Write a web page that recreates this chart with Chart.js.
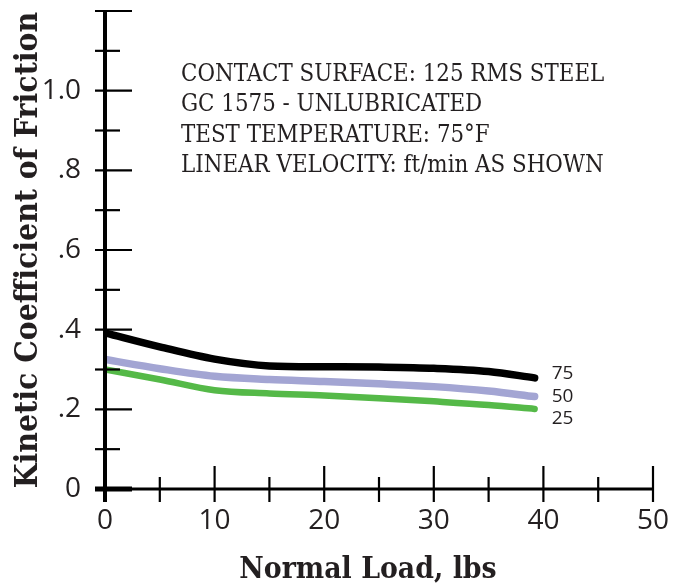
<!DOCTYPE html>
<html>
<head>
<meta charset="utf-8">
<script src="https://cdn.jsdelivr.net/npm/chart.js@4.4.1/dist/chart.umd.min.js"></script>
<style>
    html, body { margin: 0; padding: 0; background: #ffffff; }
    #wrap { width: 673px; height: 586px; }
</style>
</head>
<body>
<div id="wrap"><canvas id="frictionChart" width="673" height="586"></canvas></div>
<script>
// ===========================
// DATA
// ===========================

const loads = [0, 5, 10, 15, 20, 25, 30, 35, 39.2];
const speed75 = [0.392, 0.357, 0.326, 0.309, 0.307, 0.306, 0.303, 0.295, 0.279];
const speed50 = [0.325, 0.302, 0.283, 0.275, 0.270, 0.264, 0.257, 0.246, 0.232];
const speed25 = [0.300, 0.275, 0.248, 0.240, 0.235, 0.228, 0.220, 0.211, 0.201];

const seriesNames = ["75", "50", "25"];
const seriesColors = ["#000000", "#a3a5d3", "#55b948"];

const noteLines = [
    "CONTACT SURFACE: 125 RMS STEEL",
    "GC 1575 - UNLUBRICATED",
    "TEST TEMPERATURE: 75°F",
    "LINEAR VELOCITY: ft/min AS SHOWN"
];

const xTitle = "Normal Load, lbs";
const yTitle = "Kinetic Coefficient of Friction";

const INK = "#231f20";
const SLAB = "'DejaVu Serif Condensed', 'DejaVu Serif'";

// ===========================
// HELPER
// ===========================

function toPoints(values) {
    return values.map((v, i) => ({ x: loads[i], y: v }));
}

function yLabel(value) {
    const n = Math.round(value * 10);
    if (n % 2 !== 0 || n > 10) return "";
    if (n === 0) return "0";
    if (n === 10) return "1.0";
    return "." + n;
}

function xLabel(value) {
    return value % 10 === 0 ? String(value) : "";
}

// font size so that text spans about "width" px
function fitFont(ctx, text, weight, width) {
    ctx.font = weight + " 100px " + SLAB;
    const size = 100 * width / ctx.measureText(text).width;
    ctx.font = weight + " " + size.toFixed(1) + "px " + SLAB;
}

// ===========================
// PLUGIN: axes, ticks, texts
// ===========================

const axesPlugin = {
    id: "crossAxes",
    afterDatasetsDraw(chart) {
        const ctx = chart.ctx;
        const xs = chart.scales.x;
        const ys = chart.scales.y;
        const x0 = xs.getPixelForValue(0);
        const y0 = ys.getPixelForValue(0);

        ctx.save();
        ctx.strokeStyle = "#000000";
        ctx.lineCap = "butt";

        // y ticks
        ys.ticks.forEach(t => {
            const py = ys.getPixelForValue(t.value);
            const major = Math.round(t.value * 10) % 2 === 0;
            ctx.lineWidth = Math.round(t.value * 10) === 0 ? 5 : 2.2;
            ctx.beginPath();
            ctx.moveTo(x0 - 10, py);
            ctx.lineTo(x0 + (major ? 27 : 15), py);
            ctx.stroke();
        });

        // x ticks
        xs.ticks.forEach(t => {
            if (t.value === 0) return;
            const px = xs.getPixelForValue(t.value);
            const major = t.value % 10 === 0;
            ctx.lineWidth = 2.2;
            ctx.beginPath();
            ctx.moveTo(px, y0 + 13);
            ctx.lineTo(px, y0 - (major ? 23 : 12));
            ctx.stroke();
        });

        // x axis
        ctx.lineWidth = 3;
        ctx.beginPath();
        ctx.moveTo(x0, y0);
        ctx.lineTo(xs.getPixelForValue(50) + 1, y0);
        ctx.stroke();

        // y axis
        ctx.lineWidth = 4;
        ctx.beginPath();
        ctx.moveTo(x0, ys.getPixelForValue(1.2) - 1);
        ctx.lineTo(x0, y0 + 13);
        ctx.stroke();

        // end labels
        ctx.fillStyle = INK;
        ctx.font = "19px 'Open Sans'";
        ctx.textAlign = "left";
        ctx.textBaseline = "middle";
        const ends = [speed75, speed50, speed25];
        const shifts = [-4, 0, 10];
        ends.forEach((vals, i) => {
            const last = vals.length - 1;
            const px = xs.getPixelForValue(loads[last]) + 17;
            const py = ys.getPixelForValue(vals[last]) + shifts[i];
            ctx.fillText(seriesNames[i], px, py);
        });

        // note block
        fitFont(ctx, noteLines[0], "normal", 423);
        ctx.textBaseline = "alphabetic";
        noteLines.forEach((line, i) => {
            ctx.fillText(line, 181, 81 + i * 30.3);
        });

        // axis titles
        fitFont(ctx, xTitle, "bold", 257);
        ctx.textAlign = "center";
        ctx.fillText(xTitle, 368, 578);

        fitFont(ctx, yTitle, "bold", 477);
        ctx.save();
        ctx.translate(37, (ys.top + ys.bottom) / 2);
        ctx.rotate(-Math.PI / 2);
        ctx.fillText(yTitle, 0, 0);
        ctx.restore();

        ctx.restore();
    }
};

// ===========================
// CHART
// ===========================

const ctx = document.getElementById("frictionChart").getContext("2d");

const lineSets = [speed75, speed50, speed25].map((vals, i) => ({
    label: seriesNames[i],
    data: toPoints(vals),
    borderColor: seriesColors[i],
    borderWidth: i === 2 ? 6.5 : 7.5,
    borderCapStyle: "round",
    borderJoinStyle: "round",
    pointRadius: 0,
    cubicInterpolationMode: "monotone",
    fill: false
}));

new Chart(ctx, {
    type: "line",
    data: { datasets: lineSets },
    plugins: [axesPlugin],
    options: {
        responsive: false,
        animation: false,
        layout: { padding: { top: 11, right: 20, left: 0, bottom: 0 } },
        plugins: {
            legend: { display: false },
            tooltip: { enabled: false }
        },
        scales: {
            x: {
                type: "linear",
                min: 0,
                max: 50,
                grid: { drawOnChartArea: false, drawTicks: false },
                border: { display: false },
                afterFit: scale => {
                    scale.height = 97;
                    scale.paddingLeft = 0;
                    scale.paddingRight = 0;
                },
                ticks: {
                    stepSize: 5,
                    autoSkip: false,
                    maxRotation: 0,
                    padding: 15,
                    color: INK,
                    font: { family: "'Open Sans'", size: 28 },
                    callback: xLabel
                }
            },
            y: {
                min: 0,
                max: 1.2,
                grid: { drawOnChartArea: false, drawTicks: false },
                border: { display: false },
                afterFit: scale => {
                    scale.width = 105;
                    scale.paddingTop = 0;
                    scale.paddingBottom = 0;
                },
                ticks: {
                    stepSize: 0.1,
                    autoSkip: false,
                    padding: 24,
                    color: INK,
                    font: { family: "'Open Sans'", size: 28 },
                    callback: yLabel
                }
            }
        }
    }
});
</script>
</body>
</html>
